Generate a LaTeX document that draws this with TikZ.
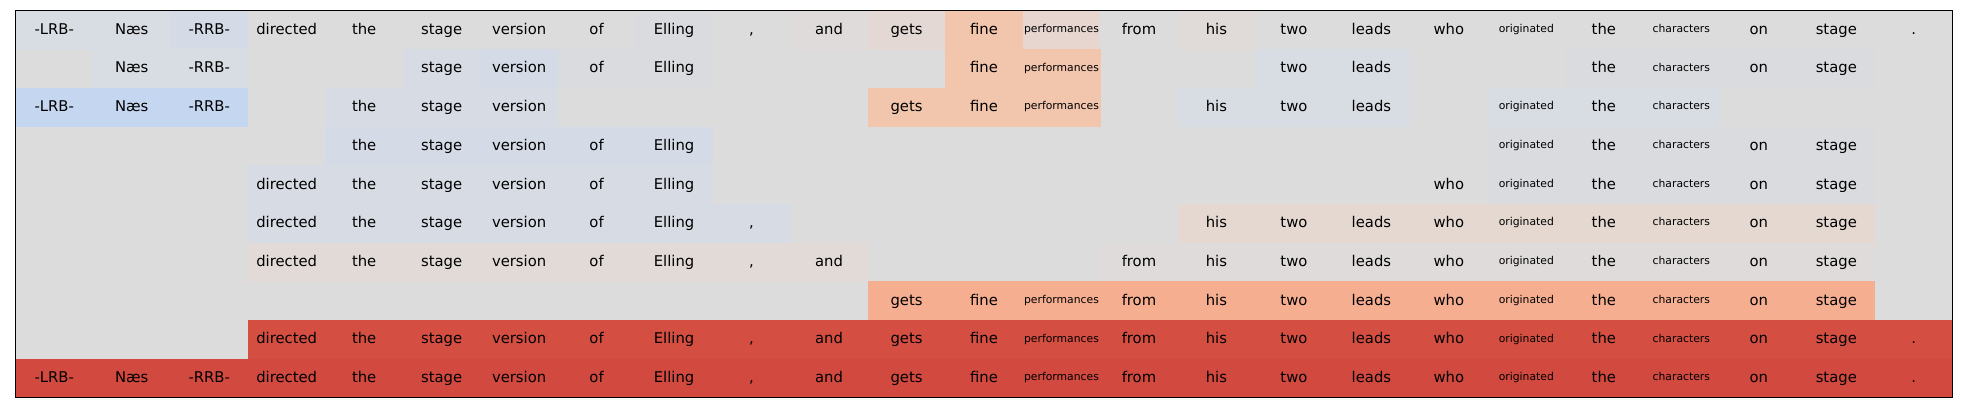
\documentclass[tikz,border=0pt]{standalone}
\usepackage{fontspec}
\setmainfont{DejaVu Sans}

\definecolor{neutral}{HTML}{DDDCDC}
\definecolor{blueA}{HTML}{D8DCE3}
\definecolor{blueB}{HTML}{D4DBE6}
\definecolor{blueC}{HTML}{D9DBDF}
\definecolor{blueD}{HTML}{D6DBE4}
\definecolor{blueE}{HTML}{C5D6F1}
\definecolor{warmA}{HTML}{DFDBDA}
\definecolor{warmB}{HTML}{E3D8D3}
\definecolor{warmC}{HTML}{E6D6CF}
\definecolor{warmD}{HTML}{E4D8D1}
\definecolor{warmE}{HTML}{E1DAD7}
\definecolor{warmF}{HTML}{E0DBD8}
\definecolor{peach}{HTML}{F2C5AD}
\definecolor{salmon}{HTML}{F6AE91}
\definecolor{redA}{HTML}{D44E42}
\definecolor{redB}{HTML}{D1493F}

% token text by column
\newcommand\tokenat[1]{\ifcase#1 -LRB-\or Næs\or -RRB-\or directed\or the\or
  stage\or version\or of\or Elling\or ,\or and\or gets\or fine\or
  performances\or from\or his\or two\or leads\or who\or originated\or the\or
  characters\or on\or stage\or .\fi}

% rows: first/last/colour of each run of cells
\newcommand\tokrows{0/{0/1/blueA, 2/2/blueB, 3/7/neutral, 8/8/blueC, 9/9/neutral,
    10/10/warmA, 11/11/warmB, 12/12/peach, 13/13/warmC, 14/14/neutral,
    15/15/warmF, 16/24/neutral},
  1/{1/2/blueA, 5/5/blueD, 6/6/blueB, 7/8/blueC, 12/13/peach, 16/17/blueA,
    20/23/blueC},
  2/{0/2/blueE, 4/6/blueD, 11/13/peach, 15/17/blueA, 19/21/blueA},
  3/{4/8/blueB, 19/23/blueC},
  4/{3/8/blueD, 18/18/neutral, 19/23/blueC},
  5/{3/9/blueD, 15/23/warmD},
  6/{3/10/warmE, 14/23/warmA},
  7/{11/23/salmon},
  8/{3/24/redA},
  9/{0/24/redB}}

\tikzset{
  word/.style={anchor=base, inner sep=0pt, yshift=-2.2pt,
    font=\fontsize{7.4}{9}\selectfont},
  smallword/.style={anchor=base, inner sep=0pt, yshift=-1.3pt,
    font=\fontsize{5.4}{6.5}\selectfont},
  frame/.style={draw=black, line width=0.5pt}
}

\begin{document}
\begin{tikzpicture}[x=0.5pt, y=-0.5pt]
  \useasboundingbox[fill=white] (0,0) rectangle (1962,412);
  \fill[neutral] (15.5,10.5) rectangle (1952.5,397.5);

  % cell colours
  \foreach \row/\segs in \tokrows {
    \foreach \a/\b/\k in \segs {
      \foreach \col in {\a,...,\b}
        \fill[\k] ({15.5+\col*77.48},{10.5+\row*38.7})
          rectangle ({15.5+(\col+1)*77.48+0.3},{10.5+(\row+1)*38.7+0.3});
    }
  }

  % cell texts
  \foreach \row/\segs in \tokrows {
    \foreach \a/\b/\k in \segs {
      \foreach \col in {\a,...,\b} {
        \def\kind{word}
        \ifnum\col=13 \def\kind{smallword}\fi
        \ifnum\col=19 \def\kind{smallword}\fi
        \ifnum\col=21 \def\kind{smallword}\fi
        \node[\kind] (tok-\row-\col) at ({15.5+(\col+0.5)*77.48},{10.5+(\row+0.5)*38.7})
          {\tokenat{\col}};
      }
    }
  }

  \draw[frame] (15.5,10.5) rectangle (1952.5,397.5);
\end{tikzpicture}
\end{document}
